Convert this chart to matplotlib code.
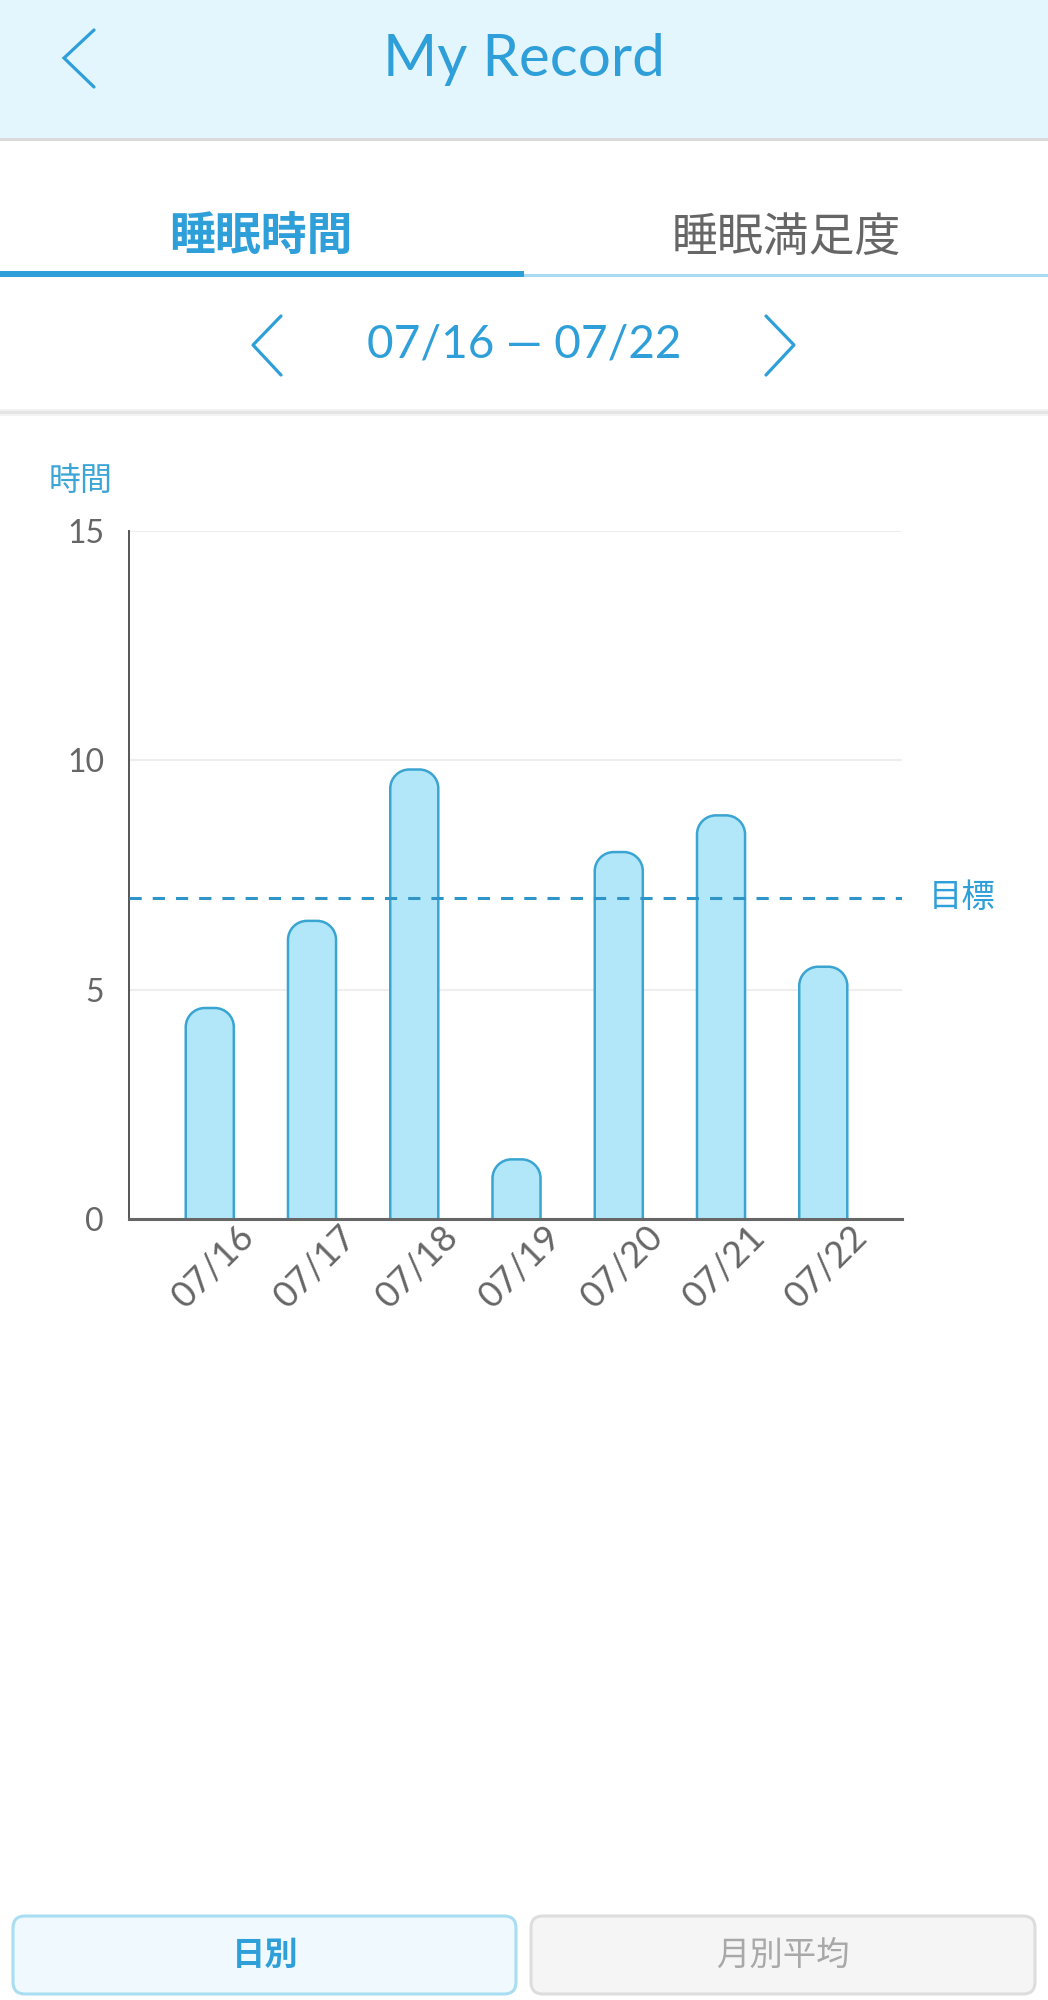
import matplotlib.pyplot as plt
from matplotlib.patches import FancyBboxPatch, Rectangle, PathPatch
from matplotlib.path import Path
from matplotlib.transforms import ScaledTranslation

# データ
days = ["07/16", "07/17", "07/18", "07/19", "07/20", "07/21", "07/22"]
hours = [4.6, 6.5, 9.8, 1.3, 8.0, 8.8, 5.5]
goal = 7
y_ticks = [0, 5, 10, 15]

title = "My Record"
tabs = ["睡眠時間", "睡眠満足度"]
date_range = "07/16 — 07/22"
y_label = "時間"
goal_label = "目標"
buttons = ["日別", "月別平均"]

BLUE = "#2E9FD8"
GREY = "#666666"
CJK = ["Noto Sans CJK JP", "DejaVu Sans"]
LAT = ["Lato", "DejaVu Sans"]
plt.rcParams["font.family"] = LAT

fig = plt.figure(figsize=(10.48, 20), dpi=100)

# 画面全体 (ピクセル座標)
bg = fig.add_axes([0, 0, 1, 1])
bg.set_xlim(0, 1048)
bg.set_ylim(2000, 0)
bg.axis("off")

# ヘッダー
bg.add_patch(Rectangle((0, 0), 1048, 138, color="#E3F5FD", lw=0))
bg.add_patch(Rectangle((0, 138), 1048, 3, color="#DADADA", lw=0))
bg.plot([94, 64, 94], [30, 58, 87], color=BLUE, lw=2.3, solid_capstyle="round", solid_joinstyle="miter")
bg.text(524, 60, title, color=BLUE, fontsize=42, ha="center", va="center")

# タブ
bg.text(261, 238, tabs[0], family=CJK, fontweight="bold", color=BLUE, fontsize=33, ha="center", va="center")
bg.text(786, 238, tabs[1], family=CJK, color=GREY, fontsize=33, ha="center", va="center")
bg.add_patch(Rectangle((0, 271), 524, 6, color=BLUE, lw=0))
bg.add_patch(Rectangle((524, 274), 524, 3, color="#A9DCF2", lw=0))

# 期間
bg.plot([281, 253, 281], [316, 345, 375], color=BLUE, lw=2.3, solid_capstyle="round")
bg.plot([766, 794, 766], [316, 345, 375], color=BLUE, lw=2.3, solid_capstyle="round")
bg.text(524, 345, date_range, color=BLUE, fontsize=33, ha="center", va="center")
bg.add_patch(Rectangle((0, 409), 1048, 2, color="#F2F2F2", lw=0))
bg.add_patch(Rectangle((0, 411), 1048, 3, color="#E4E4E4", lw=0))
bg.add_patch(Rectangle((0, 414), 1048, 2, color="#F4F4F4", lw=0))

bg.text(81, 481, y_label, family=CJK, color="#3BA6D6", fontsize=23, ha="center", va="center")

# グラフ
ax = fig.add_axes([129 / 1048, 1 - 1219 / 2000, (902 - 129) / 1048, (1219 - 531) / 2000])
ax.patch.set_alpha(0)
x = list(range(len(days)))
bars = ax.bar(x, hours, width=0.47)
ax.set_xlim(-0.79, 6.77)
ax.set_ylim(0, 15)

# 角丸の棒 (上側だけ丸める)
p0 = ax.transData.transform((0, 0))
p1 = ax.transData.transform((1, 1))
sx, sy = p1 - p0
rx, ry = 19 / sx, 19 / sy
k = 0.5523
for b in bars:
    b.set_visible(False)
    x0, w, h = b.get_x(), b.get_width(), b.get_height()
    x1 = x0 + w
    verts = [(x0, -1), (x0, h - ry),
             (x0, h - ry + k * ry), (x0 + rx - k * rx, h), (x0 + rx, h),
             (x1 - rx, h),
             (x1 - rx + k * rx, h), (x1, h - ry + k * ry), (x1, h - ry),
             (x1, -1), (x0, -1)]
    codes = [Path.MOVETO, Path.LINETO,
             Path.CURVE4, Path.CURVE4, Path.CURVE4,
             Path.LINETO,
             Path.CURVE4, Path.CURVE4, Path.CURVE4,
             Path.LINETO, Path.CLOSEPOLY]
    ax.add_patch(PathPatch(Path(verts, codes), fc="#B2E7FA", ec="#3AA4D2", lw=1.8, zorder=2))

ax.axhline(goal, color="#2F95C8", lw=2.2, ls=(0, (4, 3.6)), zorder=3)
ax.text(1.035, goal, goal_label, transform=ax.get_yaxis_transform(), family=CJK,
        color=BLUE, fontsize=24, ha="left", va="center", clip_on=False)

ax.set_yticks(y_ticks)
ax.yaxis.grid(True, color="#EEEEEE", lw=1.5)
ax.set_axisbelow(True)
ax.tick_params(axis="y", length=0, pad=18, labelsize=23, labelcolor=GREY)

ax.set_xticks(x, days, rotation=45, ha="right", va="center", rotation_mode="anchor")
ax.tick_params(axis="x", length=0, pad=0, labelsize=26, labelcolor=GREY)
offset = ScaledTranslation(0.39, -0.12, fig.dpi_scale_trans)
for lbl in ax.get_xticklabels():
    lbl.set_transform(lbl.get_transform() + offset)

for s in ["top", "right"]:
    ax.spines[s].set_visible(False)
ax.spines["left"].set_color("#555555")
ax.spines["left"].set_linewidth(1.4)
ax.spines["bottom"].set_color("#666666")
ax.spines["bottom"].set_linewidth(2.2)

# 下のボタン
bg.add_patch(FancyBboxPatch((13, 1916), 503, 78, boxstyle="round,pad=0,rounding_size=12",
                            fc="#F0FAFE", ec="#A8DDF2", lw=2.2))
bg.add_patch(FancyBboxPatch((531, 1916), 504, 78, boxstyle="round,pad=0,rounding_size=12",
                            fc="#F5F5F5", ec="#DDDDDD", lw=2.2))
bg.text(265, 1955, buttons[0], family=CJK, fontweight="bold", color=BLUE, fontsize=24, ha="center", va="center")
bg.text(783, 1955, buttons[1], family=CJK, color="#A8A8A8", fontsize=24, ha="center", va="center")

fig.savefig("out.png", dpi=100)
